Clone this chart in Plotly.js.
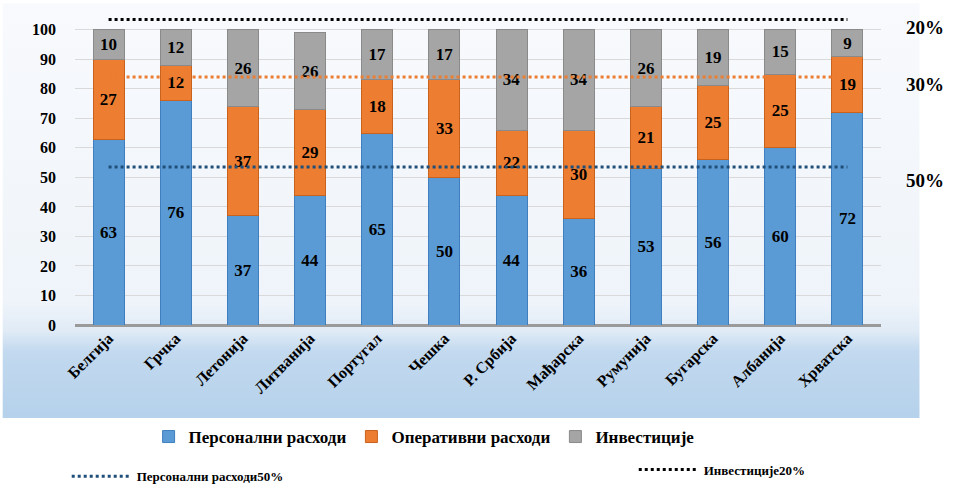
<!DOCTYPE html>
<html>
<head>
<meta charset="utf-8">
<script src="https://cdn.plot.ly/plotly-3.0.1.min.js"></script>
<style>html,body{margin:0;padding:0;background:#fff;}#chart{width:953px;height:485px;}</style>
</head>
<body>
<div id="chart"></div>
<script>
const categories = ['Белгија','Грчка','Летонија','Литванија','Португал','Чешка','Р. Србија','Мађарска','Румунија','Бугарска','Албанија','Хрватска'];
const personnel  = [63, 76, 37, 44, 65, 50, 44, 36, 53, 56, 60, 72];
const operating  = [27, 12, 37, 29, 18, 33, 22, 30, 21, 25, 25, 19];
const investment = [10, 12, 26, 26, 17, 17, 34, 34, 26, 19, 15, 9];
const seriesNames = ['Персонални расходи', 'Оперативни расходи', 'Инвестиције'];
const refNames  = ['Персонални расходи50%', 'Оперативни 30%', 'Инвестиције20%'];
const refLevels = [53.5, 84, 103.5];
const refLabels = ['50%', '30%', '20%'];
const refLabelLevels = [49, 81.5, 100.8];
const yTicks = [0,10,20,30,40,50,60,70,80,90,100];

const serif = 'Liberation Serif';
const barColors = ['#5b9bd5', '#ed7d31', '#a5a5a5'];
const barEdges  = ['#3f7fbf', '#c8621c', '#8a8a8a'];
const lineColors = ['#1f4e79', '#ed7d31', '#000000'];
const refLegends = ['legend2', 'legend2', 'legend3'];

const barData = [personnel, operating, investment];
const traces = barData.map((vals, i) => ({
  type: 'bar', x: categories, y: vals, name: seriesNames[i],
  marker: {color: barColors[i], line: {color: barEdges[i], width: 1}},
  texttemplate: '%{y}', textposition: 'inside', insidetextanchor: 'middle',
  textangle: 0, constraintext: 'none',
  textfont: {family: serif, size: 17, color: '#000', weight: 'bold'},
  insidetextfont: {family: serif, size: 17, color: '#000', weight: 'bold'},
  hoverinfo: 'skip', legend: 'legend'
}));

refLevels.forEach((lvl, i) => {
  traces.push({
    type: 'scatter', mode: 'lines', x: categories, y: categories.map(() => lvl),
    name: refNames[i], line: {color: lineColors[i], width: 3, dash: 'dot'},
    showlegend: i !== 1, legend: refLegends[i], hoverinfo: 'skip', cliponaxis: false
  });
});

const svg = "<svg xmlns='http://www.w3.org/2000/svg' width='100' height='100' preserveAspectRatio='none'><defs><linearGradient id='g' x1='0' y1='0' x2='0' y2='1'><stop offset='0' stop-color='#f8fafd'/><stop offset='0.72' stop-color='#eff4fa'/><stop offset='0.79' stop-color='#e0ebf6'/><stop offset='0.84' stop-color='#c2d9ef'/><stop offset='1' stop-color='#b5d1eb'/></linearGradient></defs><rect width='100' height='100' fill='url(#g)'/></svg>";

const annotations = refLabels.map((t, i) => ({
  text: t, xref: 'paper', yref: 'y', x: 1.055, y: refLabelLevels[i],
  showarrow: false, xanchor: 'center', yanchor: 'middle',
  font: {family: serif, size: 19, color: '#000', weight: 'bold'}
}));

const legendFontSmall = {family: serif, size: 13, color: '#000', weight: 'bold'};

const layout = {
  width: 953, height: 485,
  margin: {l: 75, r: 72, t: 15, b: 160},
  barmode: 'stack', bargap: 0.54,
  paper_bgcolor: '#ffffff', plot_bgcolor: 'rgba(0,0,0,0)',
  font: {family: serif, color: '#000'},
  xaxis: {
    type: 'category', range: [-0.5, 11.5], tickangle: -45, automargin: false,
    tickfont: {family: serif, size: 16, color: '#000', weight: 'bold'},
    showgrid: false, showline: false, ticks: ''
  },
  yaxis: {
    range: [0, 105], tickvals: yTicks, ticklabelstandoff: 18, automargin: false,
    tickfont: {family: serif, size: 16, color: '#000', weight: 'bold'},
    showgrid: true, gridcolor: '#d9d9d9', gridwidth: 1,
    zeroline: true, zerolinecolor: '#9a9a9a', zerolinewidth: 3, showline: false
  },
  legend: {
    orientation: 'h', xref: 'container', yref: 'container',
    x: 0.445, xanchor: 'center', y: 0.099, yanchor: 'middle',
    font: {family: serif, size: 17, color: '#000', weight: 'bold'},
    bgcolor: 'rgba(0,0,0,0)', traceorder: 'normal', itemwidth: 30
  },
  legend2: {
    orientation: 'h', xref: 'container', yref: 'container',
    x: 0.07, xanchor: 'left', y: 0.018, yanchor: 'middle',
    font: legendFontSmall, bgcolor: 'rgba(0,0,0,0)', itemwidth: 60
  },
  legend3: {
    orientation: 'h', xref: 'container', yref: 'container',
    x: 0.665, xanchor: 'left', y: 0.032, yanchor: 'middle',
    font: legendFontSmall, bgcolor: 'rgba(0,0,0,0)', itemwidth: 60
  },
  images: [{
    source: 'data:image/svg+xml;utf8,' + encodeURIComponent(svg),
    xref: 'paper', yref: 'paper', x: -0.09, y: 1.038, sizex: 1.138, sizey: 1.338,
    xanchor: 'left', yanchor: 'top', sizing: 'stretch', layer: 'below'
  }],
  annotations: annotations,
  showlegend: true
};

Plotly.newPlot('chart', traces, layout, {displayModeBar: false, staticPlot: true});
</script>
</body>
</html>
